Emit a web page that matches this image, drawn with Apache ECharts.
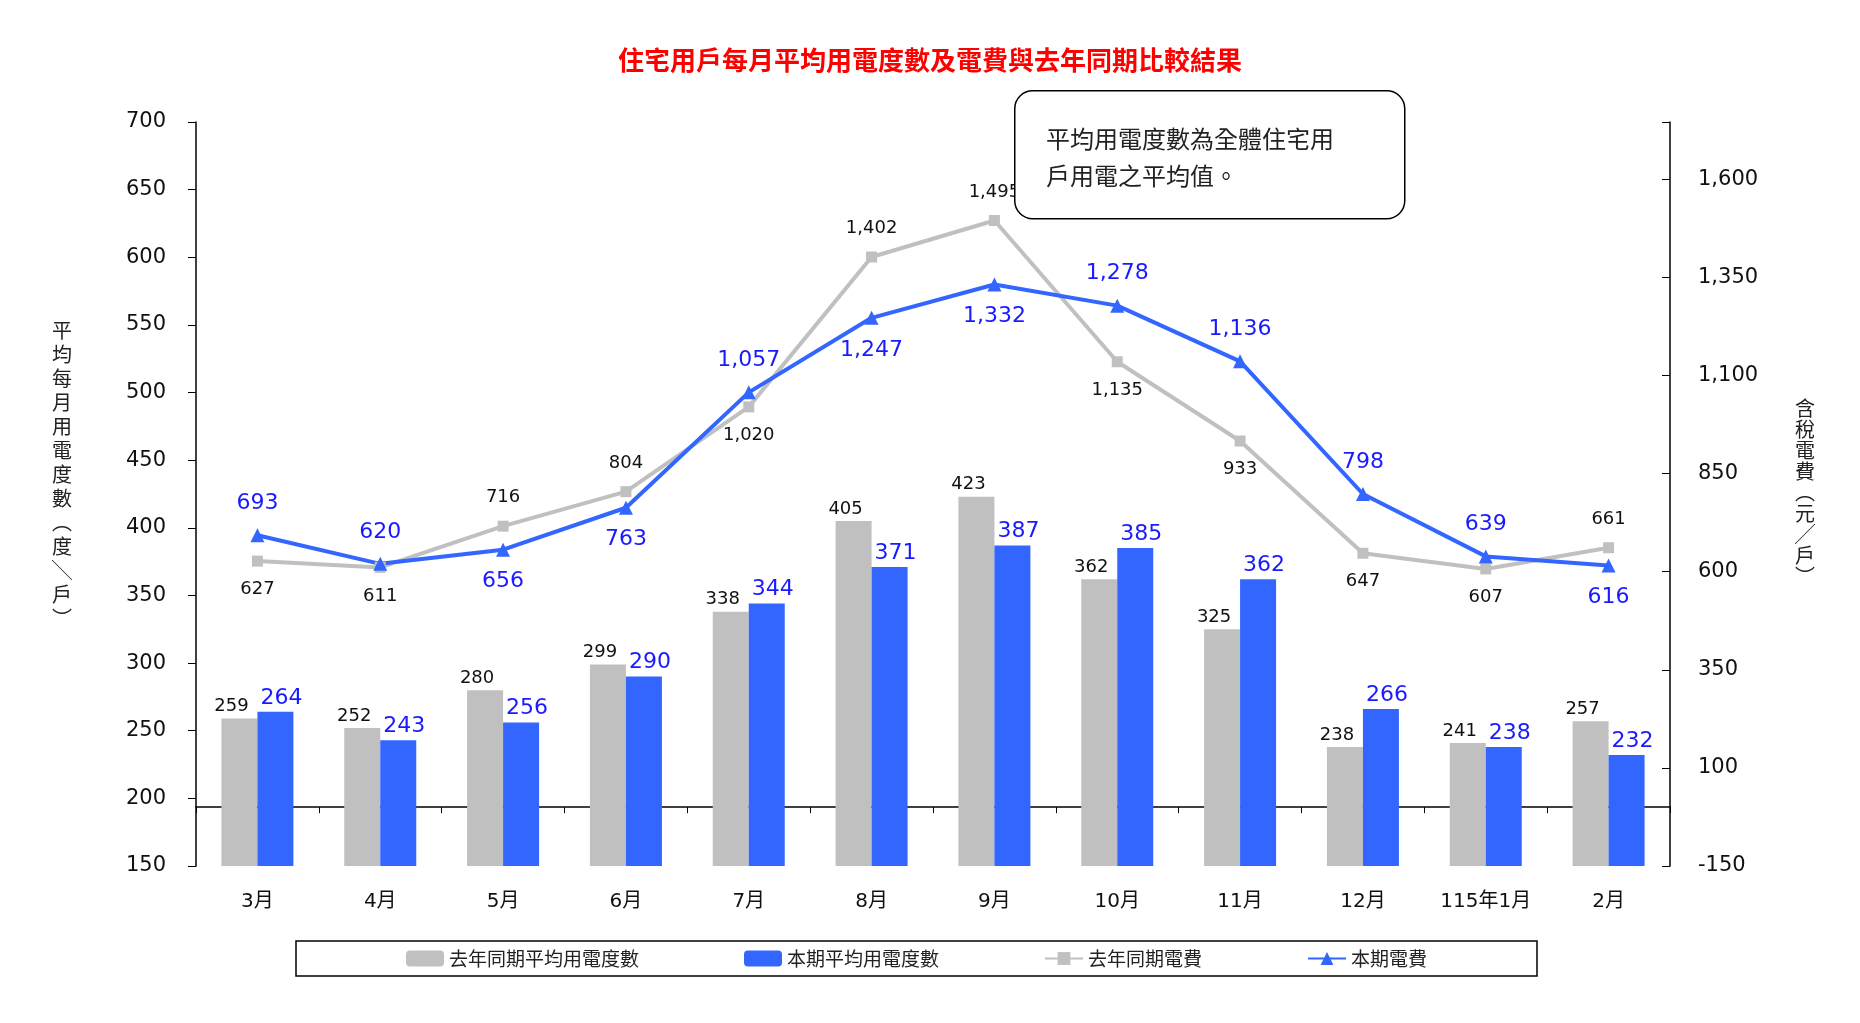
<!DOCTYPE html>
<html>
<head>
<meta charset="utf-8">
<script src="https://cdn.jsdelivr.net/npm/echarts@6/dist/echarts.min.js"></script>
<style>html,body{margin:0;padding:0;background:#fff}#chart{width:1860px;height:1023px}</style>
</head>
<body>
<div id="chart"></div>
<script>
const months = ['3月', '4月', '5月', '6月', '7月', '8月', '9月', '10月', '11月', '12月', '115年1月', '2月'];
const lastYearKwh = [259, 252, 280, 299, 338, 405, 423, 362, 325, 238, 241, 257];
const thisYearKwh = [264, 243, 256, 290, 344, 371, 387, 385, 362, 266, 238, 232];
const lastYearFee = [627, 611, 716, 804, 1020, 1402, 1495, 1135, 933, 647, 607, 661];
const thisYearFee = [693, 620, 656, 763, 1057, 1247, 1332, 1278, 1136, 798, 639, 616];

// label placement per point (style only)
const grayPos = ['bottom', 'bottom', 'top', 'top', 'bottom', 'top', 'top', 'bottom', 'bottom', 'bottom', 'bottom', 'top'];
const bluePos = ['top', 'top', 'bottom', 'bottom', 'top', 'bottom', 'bottom', 'top', 'top', 'top', 'top', 'bottom'];

const FONT = 'DejaVu Sans, "Noto Sans CJK TC", sans-serif';
const fmt = v => v.toLocaleString('en-US');

const myChart = echarts.init(document.getElementById('chart'));

const option = {
  animation: false,
  textStyle: { fontFamily: FONT },
  title: {
    text: '住宅用戶每月平均用電度數及電費與去年同期比較結果',
    left: 'center', top: 42,
    textStyle: { color: '#ff0000', fontSize: 26, fontWeight: 'bold', fontFamily: '"Noto Sans CJK TC", sans-serif' }
  },
  legend: {
    left: 296, top: 941, width: 1300,
    itemGap: 105,
    padding: [8, 110, 8, 110],
    borderColor: '#000', borderWidth: 1.5,
    itemWidth: 38, itemHeight: 16,
    textStyle: { fontSize: 19, color: '#222', fontFamily: '"Noto Sans CJK TC", sans-serif' },
    data: ['去年同期平均用電度數', '本期平均用電度數', '去年同期電費', '本期電費']
  },
  grid: { left: 196, right: 190, top: 122, bottom: 157 },
  xAxis: {
    type: 'category', data: months,
    axisLine: { lineStyle: { color: '#000', width: 1.5 } },
    axisTick: { show: true, lineStyle: { color: '#000' }, length: 6 },
    axisLabel: { fontSize: 20, color: '#111', margin: 26 }
  },
  yAxis: [
    {
      type: 'value', min: 150, max: 700, interval: 50, position: 'left',
      axisLine: { show: true, lineStyle: { color: '#000', width: 1.5 } },
      axisTick: { show: true, length: 8, lineStyle: { color: '#000' } },
      axisLabel: { fontSize: 21, color: '#111', margin: 30 },
      splitLine: { show: false }
    },
    {
      type: 'value', min: -150, max: 1746, interval: 50, position: 'right',
      axisLine: { show: true, lineStyle: { color: '#000', width: 1.5 } },
      axisTick: { show: false },
      axisLabel: {
        fontSize: 21, color: '#111', margin: 28,
        formatter: v => ((v + 150) % 250 === 0 ? fmt(v) : '')
      },
      splitLine: { show: false }
    },
    {
      // tick marks only, every 250 from -150
      type: 'value', min: 0, max: 1896, interval: 250, position: 'right',
      axisLine: { show: false },
      axisTick: { show: true, inside: true, length: 8, lineStyle: { color: '#000' } },
      axisLabel: { show: false },
      splitLine: { show: false }
    }
  ],
  graphic: [
    {
      type: 'rect', left: 1014, top: 90,
      shape: { width: 390, height: 128, r: 18 },
      style: { fill: '#fff', stroke: '#000', lineWidth: 1.5 }, z: 10
    },
    {
      type: 'text', left: 1046, top: 120, z: 11,
      style: { text: '平均用電度數為全體住宅用\n戶用電之平均值。', fontSize: 24, lineHeight: 37, fill: '#222', fontFamily: '"Noto Sans CJK TC", sans-serif' }
    },
    {
      type: 'text', left: 52, top: 318,
      style: { text: '平\n均\n每\n月\n用\n電\n度\n數\n︵\n度\n╲\n戶\n︶', fontSize: 20, lineHeight: 24, fill: '#222', fontFamily: '"Noto Sans CJK TC", sans-serif' }
    },
    {
      type: 'text', left: 1795, top: 398,
      style: { text: '含\n稅\n電\n費\n︵\n元\n╱\n戶\n︶', fontSize: 20, lineHeight: 21, fill: '#222', fontFamily: '"Noto Sans CJK TC", sans-serif' }
    }
  ],
  series: [
    {
      name: '去年同期平均用電度數', type: 'bar', data: lastYearKwh,
      barWidth: 36, barGap: '0%',
      itemStyle: { color: '#c0c0c0' },
      label: { show: true, position: 'top', fontSize: 18, color: '#111', distance: 3, offset: [-8, 0] }
    },
    {
      name: '本期平均用電度數', type: 'bar', data: thisYearKwh,
      barWidth: 36,
      itemStyle: { color: '#3366ff' },
      label: { show: true, position: 'top', fontSize: 22, color: '#1a1aff', distance: 3, offset: [6, 0] }
    },
    {
      name: '去年同期電費', type: 'line', yAxisIndex: 1,
      data: lastYearFee.map((v, i) => ({ value: v, label: { position: grayPos[i] } })),
      symbol: 'rect', symbolSize: 11,
      lineStyle: { color: '#c0c0c0', width: 4 },
      itemStyle: { color: '#c0c0c0' },
      label: { show: true, fontSize: 18, color: '#111', distance: 14, formatter: p => fmt(p.value) }
    },
    {
      name: '本期電費', type: 'line', yAxisIndex: 1,
      data: thisYearFee.map((v, i) => ({ value: v, label: { position: bluePos[i] } })),
      symbol: 'triangle', symbolSize: 14,
      lineStyle: { color: '#3366ff', width: 4 },
      itemStyle: { color: '#3366ff' },
      label: { show: true, fontSize: 22, color: '#1a1aff', distance: 14, formatter: p => fmt(p.value) }
    }
  ]
};

myChart.setOption(option);
</script>
</body>
</html>
